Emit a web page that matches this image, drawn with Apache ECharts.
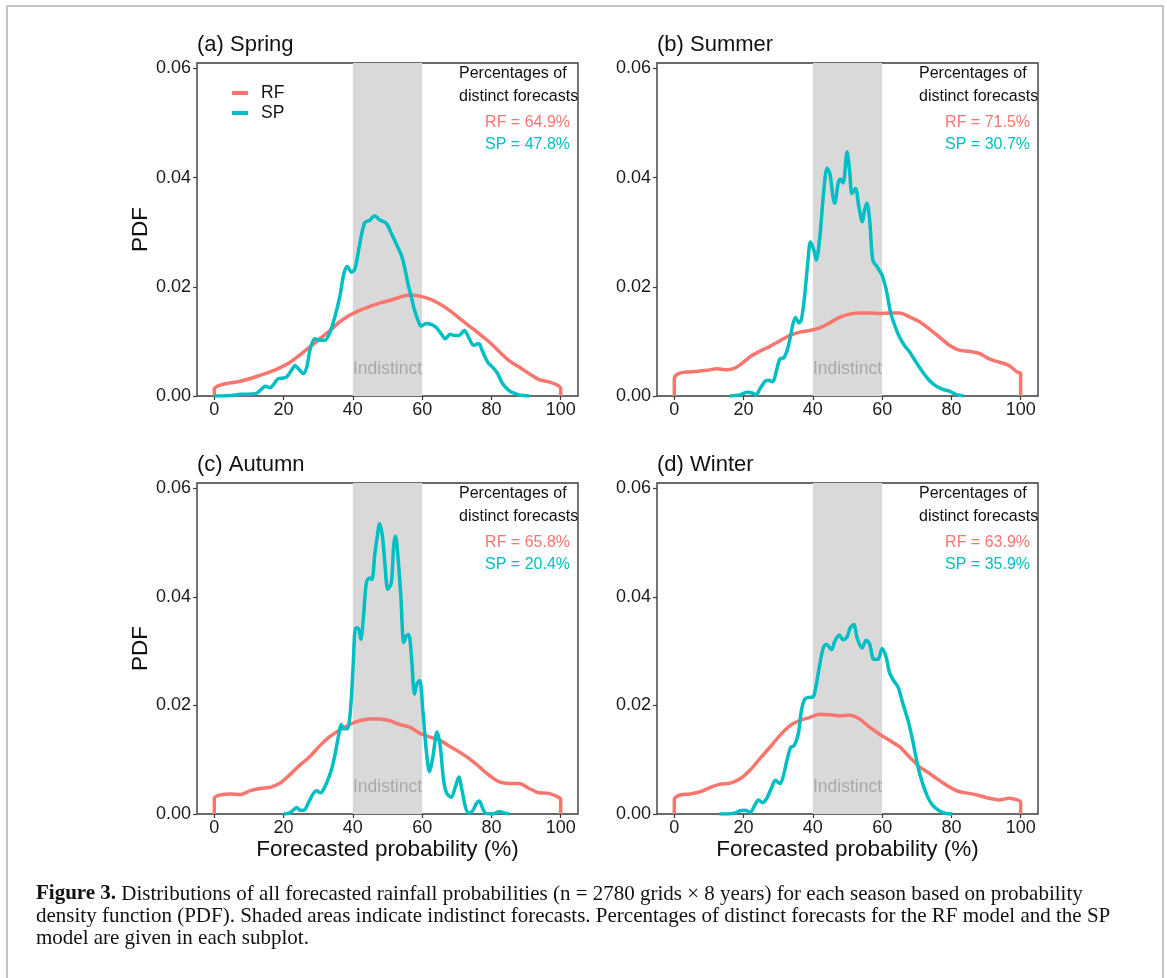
<!DOCTYPE html>
<html>
<head>
<meta charset="utf-8">
<title>Figure 3</title>
<script src="https://cdn.jsdelivr.net/npm/echarts@6/dist/echarts.min.js"></script>
<style>
    html, body { margin: 0; padding: 0; background: #fff; }
    #chart { width: 1167px; height: 978px; }
</style>
</head>
<body>
<div id="chart"></div>
<script>
// panel titles and the distinct-forecast percentages
var panelTitles = ['(a) Spring', '(b) Summer', '(c) Autumn', '(d) Winter'];
var rfPercent = ['64.9%', '71.5%', '65.8%', '63.9%'];
var spPercent = ['47.8%', '30.7%', '20.4%', '35.9%'];
var xTicks = [0, 20, 40, 60, 80, 100];
var yTicks = [0, 0.02, 0.04, 0.06];

// density curves, [forecasted probability, PDF]
var springRF = [[0,0],[0,0.0013],[1.7,0.002],[4.6,0.0024],[7.5,0.0027],[10.4,0.0032],[13.2,0.0038],[16.1,0.0044],[19,0.0052],[21.9,0.0062],[24.7,0.0075],[27.6,0.009],[30.5,0.0105],[33.4,0.012],[36.2,0.0136],[39.1,0.0148],[42,0.0157],[44.9,0.0164],[47.7,0.017],[50.6,0.0175],[53.5,0.0181],[56.4,0.0185],[59.3,0.0183],[62.1,0.0178],[65,0.0169],[67.9,0.0157],[70.8,0.0142],[73.6,0.0128],[76.5,0.0114],[79.4,0.0099],[82.3,0.0081],[85.1,0.0065],[88,0.0053],[90.9,0.0041],[93.8,0.003],[96.6,0.0026],[99,0.002],[100,0.0014],[100,0]];
var springSP = [[0,0],[5,0.0001],[7.5,0.0003],[11.8,0.0004],[13.7,0.0013],[14.7,0.0018],[16.1,0.0015],[17,0.002],[18.5,0.0032],[20,0.0033],[20.9,0.0035],[22.3,0.0047],[23.3,0.0056],[24.3,0.005],[25.7,0.0041],[26.7,0.0053],[27.6,0.0084],[29,0.0105],[30.5,0.0102],[31.9,0.0102],[33.4,0.0117],[34.8,0.0145],[36.2,0.0181],[37.4,0.0224],[38.4,0.0237],[39.6,0.0227],[40.6,0.0233],[42,0.0279],[43.4,0.0317],[44.9,0.0322],[46.3,0.033],[47.7,0.0323],[49.7,0.0316],[51.1,0.0298],[52.5,0.0279],[54,0.0258],[54.9,0.0237],[55.9,0.0206],[56.9,0.0181],[57.8,0.0157],[58.8,0.0139],[59.7,0.0128],[61.2,0.0133],[62.6,0.0131],[64,0.0126],[65.5,0.0114],[66.7,0.0105],[68.1,0.0113],[69.3,0.0111],[70.6,0.0111],[72.2,0.012],[73.6,0.0105],[74.9,0.0093],[76.3,0.0096],[77.5,0.0081],[78.9,0.0062],[80.3,0.0053],[81.8,0.0041],[83.2,0.0023],[85.1,0.001],[87.1,0.0004],[89,0.0001],[91,0]];
var summerRF = [[0,0],[0,0.0032],[1.2,0.0041],[3.6,0.0044],[6.5,0.0045],[9.4,0.0047],[12.3,0.005],[15.1,0.0048],[17,0.005],[19,0.0057],[21.9,0.0072],[24.7,0.0082],[27.6,0.0091],[30.5,0.0101],[33.4,0.0111],[36.2,0.0117],[39.1,0.012],[42,0.0125],[44.9,0.0134],[47.7,0.0144],[50.6,0.015],[53.5,0.0152],[56.4,0.0152],[59.3,0.0151],[62.1,0.0152],[65,0.0152],[67.9,0.0145],[70.8,0.0136],[73.6,0.0123],[76.5,0.0108],[79.4,0.0093],[82.3,0.0084],[85.1,0.0082],[88,0.0078],[90.9,0.0068],[93.8,0.0062],[96.6,0.0056],[99,0.0044],[100,0.0041],[100,0]];
var summerSP = [[16,0],[19,0.0002],[20.9,0.0007],[22.3,0.0006],[23.6,0.0002],[24.7,0.0013],[26.2,0.0027],[27.1,0.0029],[28.4,0.0026],[29.5,0.0047],[30.5,0.0068],[31.6,0.007],[32.6,0.0084],[33.4,0.0105],[34.3,0.0133],[35,0.0144],[36,0.0134],[36.7,0.014],[37.7,0.0188],[38.6,0.0249],[39.3,0.0282],[40.3,0.0267],[41,0.0249],[42,0.0291],[43,0.0365],[44.1,0.0417],[44.9,0.0408],[45.8,0.0365],[46.3,0.0353],[47.3,0.039],[47.9,0.0397],[48.7,0.039],[49.9,0.0447],[50.6,0.0413],[51.3,0.0371],[52.3,0.038],[53.3,0.0346],[54.3,0.0319],[54.9,0.034],[55.6,0.0353],[56.4,0.0322],[57.3,0.0249],[58.5,0.0237],[60,0.0221],[61.2,0.0194],[62.3,0.0157],[63.6,0.013],[65,0.0108],[66.4,0.0093],[67.9,0.0081],[69.8,0.0062],[71.7,0.0044],[73.6,0.0029],[75.6,0.0018],[77.5,0.0012],[79.4,0.0009],[81.3,0.0003],[83.5,0]];
var autumnRF = [[0,0],[0,0.0029],[1.7,0.0035],[4.6,0.0037],[7.5,0.0036],[10.4,0.0043],[13.2,0.0047],[16.1,0.0049],[19,0.0057],[21.9,0.0073],[24.7,0.009],[27.6,0.0106],[30.5,0.0126],[33.4,0.0143],[36.2,0.0155],[39.1,0.0165],[42,0.0172],[44.9,0.0175],[47.7,0.0175],[50.6,0.0172],[53.5,0.0165],[56.4,0.016],[59.3,0.0149],[62.1,0.0142],[65,0.0136],[67.9,0.0125],[70.8,0.0114],[73.6,0.0102],[76.5,0.0087],[79.4,0.0071],[82.3,0.0059],[85.1,0.0056],[88,0.0056],[90.9,0.0047],[93.8,0.0039],[96.6,0.0038],[99,0.0032],[100,0.0027],[100,0]];
var autumnSP = [[20,0],[21.4,0.0001],[22.8,0.0007],[23.8,0.0012],[24.7,0.0007],[25.9,0.0007],[27.1,0.002],[28.6,0.0038],[29.5,0.0043],[30.7,0.0039],[31.9,0.005],[32.9,0.0065],[33.8,0.0081],[34.8,0.0108],[35.8,0.0142],[36.7,0.0165],[37.4,0.0157],[38.4,0.0157],[39.3,0.0191],[40.1,0.0276],[40.8,0.0343],[41.5,0.0343],[42.3,0.0322],[43,0.0359],[43.9,0.0426],[44.7,0.0435],[45.5,0.0432],[46.3,0.0477],[47.1,0.0514],[47.7,0.0535],[48.5,0.0514],[49.2,0.0465],[50.1,0.0414],[51.1,0.0426],[51.8,0.0496],[52.3,0.0512],[53,0.0475],[53.8,0.0407],[54.7,0.0316],[55.4,0.0328],[56.1,0.0331],[56.9,0.0291],[57.8,0.0221],[58.5,0.024],[59.3,0.0246],[60.2,0.0191],[61.2,0.0117],[62.1,0.0078],[63.1,0.0105],[64.3,0.0151],[65.2,0.0126],[66.2,0.0062],[67.1,0.0038],[68.4,0.0031],[69.6,0.005],[70.6,0.0068],[71.5,0.0044],[72.5,0.0013],[73.4,0.0002],[74.6,0.0006],[75.7,0.002],[76.5,0.0024],[77.5,0.001],[78.4,0.0001],[80.3,0],[82.3,0.0004],[83.7,0.0002],[85.1,0]];
var winterRF = [[0,0],[0,0.0027],[1.7,0.0035],[4.6,0.0037],[7.5,0.0041],[10.4,0.0049],[13.2,0.0055],[16.1,0.0057],[19,0.0065],[21.9,0.0081],[24.7,0.0102],[27.6,0.0123],[30.5,0.0145],[33.4,0.0163],[36.2,0.0172],[39.1,0.0178],[42,0.0184],[44.9,0.0183],[47.7,0.0181],[50.6,0.0182],[53.5,0.0175],[56.4,0.016],[59.3,0.0147],[62.1,0.0136],[65,0.0124],[67.9,0.0105],[70.8,0.0087],[73.6,0.0075],[76.5,0.0062],[79.4,0.005],[82.3,0.0041],[85.1,0.0038],[88,0.0034],[90.9,0.0029],[93.8,0.0026],[96.6,0.0029],[99,0.0026],[100,0.0022],[100,0]];
var winterSP = [[13,0],[17,0.0001],[19,0.0006],[20.4,0.0007],[21.9,0.0003],[23.3,0.0017],[24.3,0.0026],[25.5,0.0021],[26.7,0.0029],[28.1,0.0049],[29.2,0.0062],[30.5,0.0056],[31.4,0.0068],[32.4,0.0096],[33.6,0.0123],[34.6,0.0126],[35.8,0.0148],[36.7,0.0191],[37.7,0.0212],[39,0.0215],[40.1,0.0216],[41,0.0239],[42,0.0276],[43,0.0306],[43.9,0.0313],[45.4,0.0303],[46.3,0.0318],[47.6,0.033],[48.7,0.0321],[49.9,0.0327],[50.8,0.0343],[51.8,0.0349],[52.8,0.0324],[54.2,0.0306],[55.4,0.032],[56.4,0.0313],[57.6,0.0285],[58.8,0.0285],[60,0.0305],[61.2,0.0288],[62.1,0.0261],[63.3,0.0246],[64.6,0.0234],[66,0.0203],[67.5,0.0172],[68.8,0.0136],[70.3,0.0088],[71.7,0.0056],[73.1,0.0032],[74.6,0.0016],[76.5,0.0006],[78.4,0.0001],[80.3,0]];

var rfData = [springRF, summerRF, autumnRF, winterRF];
var spData = [springSP, summerSP, autumnSP, winterSP];

var RF_COLOR = '#F8766D';
var SP_COLOR = '#00BFC4';
var SANS = 'Liberation Sans, Arial, sans-serif';

// plot frames: left, top, width, height
var frames = [[197, 63, 381, 333], [657, 63, 381, 333], [197, 483, 381, 331], [657, 483, 381, 331]];

var chart = echarts.init(document.getElementById('chart'));

var grids = [], xAxes = [], yAxes = [], series = [], graphics = [];

// light frame round the whole figure
graphics.push({
    type: 'rect',
    shape: {x: 7, y: 6, width: 1156, height: 1000},
    style: {fill: 'none', stroke: '#c4c4c4', lineWidth: 2}
});

for (var i = 0; i < 4; i++) {
    var f = frames[i];
    grids.push({
        left: f[0], top: f[1], width: f[2], height: f[3],
        show: true, borderColor: '#3a3a3a', borderWidth: 1.4, backgroundColor: 'transparent'
    });
    xAxes.push({
        type: 'value', gridIndex: i, min: -5, max: 105,
        name: i >= 2 ? 'Forecasted probability (%)' : '',
        nameLocation: 'middle', nameGap: 24,
        nameTextStyle: {fontFamily: SANS, fontSize: 22.5, color: '#111'},
        axisLine: {show: false, onZero: false},
        axisTick: {show: true, customValues: xTicks, length: 4, lineStyle: {color: '#3a3a3a', width: 1.2}},
        axisLabel: {customValues: xTicks, fontFamily: SANS, fontSize: 18, color: '#1a1a1a', margin: 5},
        splitLine: {show: false}
    });
    yAxes.push({
        type: 'value', gridIndex: i, min: 0, max: 0.061,
        name: i % 2 === 0 ? 'PDF' : '',
        nameLocation: 'middle', nameGap: 42, nameRotate: 90,
        nameTextStyle: {fontFamily: SANS, fontSize: 22.5, color: '#111'},
        axisLine: {show: false, onZero: false},
        axisTick: {show: true, customValues: yTicks, length: 4, lineStyle: {color: '#3a3a3a', width: 1.2}},
        axisLabel: {
            customValues: yTicks, fontFamily: SANS, fontSize: 18, color: '#1a1a1a', margin: 6,
            formatter: function (v) { return v.toFixed(2); }
        },
        splitLine: {show: false}
    });
    series.push({
        name: 'RF', type: 'line', xAxisIndex: i, yAxisIndex: i,
        data: rfData[i], showSymbol: false, smooth: 0.3,
        lineStyle: {color: RF_COLOR, width: 3.5}, itemStyle: {color: RF_COLOR},
        markArea: {
            silent: true,
            itemStyle: {color: '#d9d9d9'},
            label: {
                show: true, position: 'insideBottom', distance: 18,
                fontFamily: SANS, fontSize: 17.5, color: '#a9a9a9'
            },
            data: [[{name: 'Indistinct', xAxis: 40}, {xAxis: 60}]]
        },
        z: 2
    });
    series.push({
        name: 'SP', type: 'line', xAxisIndex: i, yAxisIndex: i,
        data: spData[i], showSymbol: false, smooth: 0.3,
        lineStyle: {color: SP_COLOR, width: 3.5}, itemStyle: {color: SP_COLOR},
        z: 3
    });

    // panel title
    graphics.push({
        type: 'text', left: f[0], top: f[1] - 29,
        style: {text: panelTitles[i], font: '22px ' + SANS, fill: '#111'}
    });
    // percentages of distinct forecasts
    graphics.push({
        type: 'text', x: f[0] + 262, y: f[1] + 11,
        style: {text: 'Percentages of', font: '16px ' + SANS, fill: '#111', textVerticalAlign: 'middle'}
    });
    graphics.push({
        type: 'text', x: f[0] + 262, y: f[1] + 34,
        style: {text: 'distinct forecasts', font: '16px ' + SANS, fill: '#111', textVerticalAlign: 'middle'}
    });
    graphics.push({
        type: 'text', x: f[0] + 373, y: f[1] + 60,
        style: {text: 'RF = ' + rfPercent[i], font: '16px ' + SANS, fill: RF_COLOR, textAlign: 'right', textVerticalAlign: 'middle'}
    });
    graphics.push({
        type: 'text', x: f[0] + 373, y: f[1] + 82,
        style: {text: 'SP = ' + spPercent[i], font: '16px ' + SANS, fill: SP_COLOR, textAlign: 'right', textVerticalAlign: 'middle'}
    });
}

// caption under the figure
graphics.push({
    type: 'text', x: 36, y: 883,
    style: {
        text: '{b|Figure 3.} Distributions of all forecasted rainfall probabilities (n = 2780 grids \u00d7 8 years) for each season based on probability\n' +
              'density function (PDF). Shaded areas indicate indistinct forecasts. Percentages of distinct forecasts for the RF model and the SP\n' +
              'model are given in each subplot.',
        font: '21px "Liberation Serif", serif',
        fill: '#111',
        lineHeight: 22,
        rich: {
            b: {fontWeight: 'bold', fontFamily: 'Liberation Serif', fontSize: 21, fill: '#111', lineHeight: 22}
        }
    }
});

chart.setOption({
    backgroundColor: '#fff',
    animation: false,
    grid: grids,
    xAxis: xAxes,
    yAxis: yAxes,
    legend: {
        data: ['RF', 'SP'],
        orient: 'vertical',
        left: 227, top: 79,
        icon: 'rect', itemWidth: 16, itemHeight: 4, itemGap: 2,
        textStyle: {fontFamily: SANS, fontSize: 17.5, color: '#111', padding: [0, 0, 0, 8]}
    },
    series: series,
    graphic: graphics
});
</script>
</body>
</html>
